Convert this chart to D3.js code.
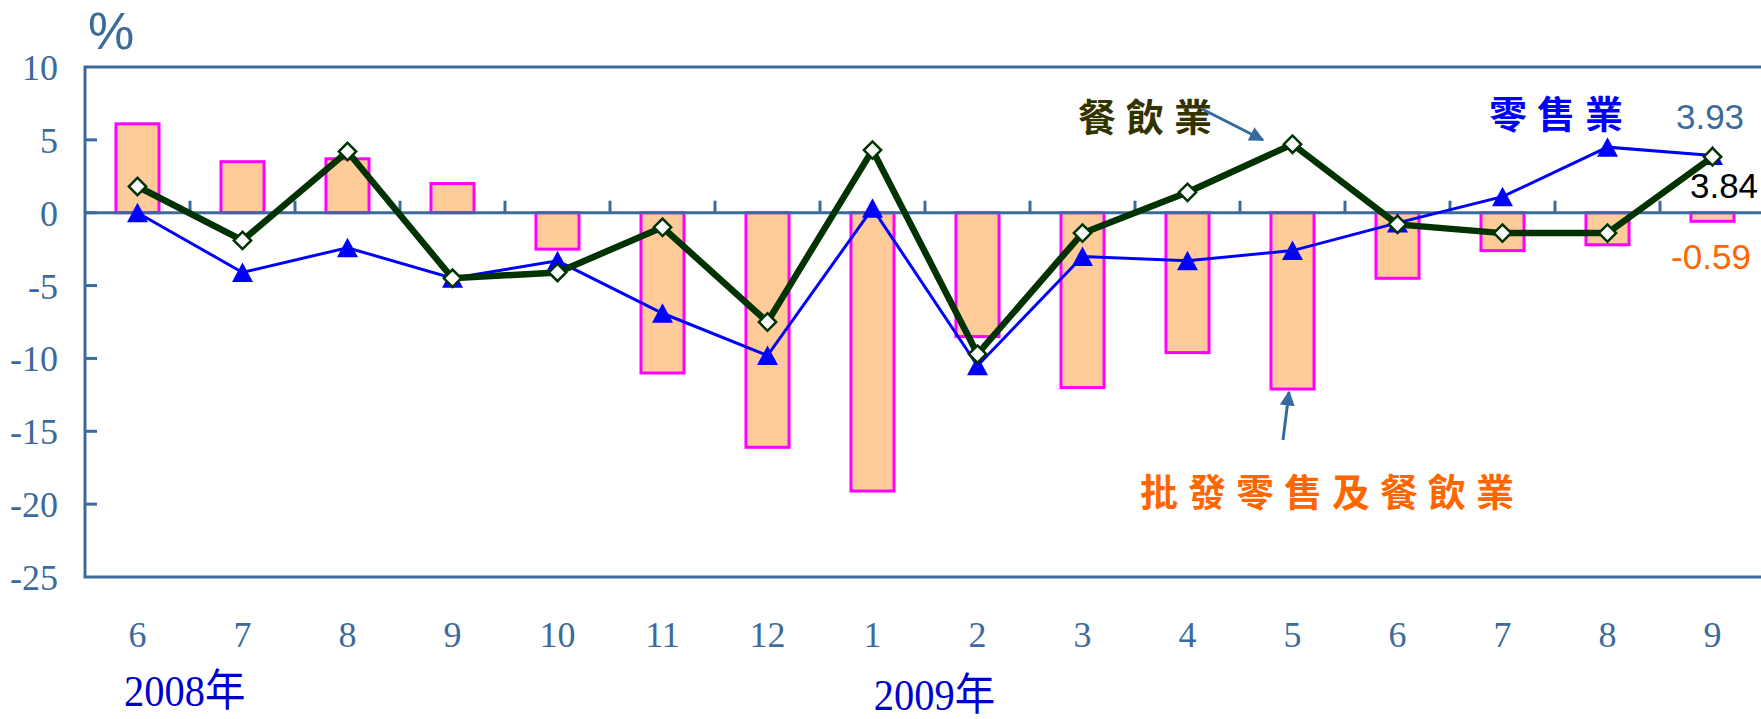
<!DOCTYPE html>
<html>
<head>
<meta charset="utf-8">
<script src="https://cdn.jsdelivr.net/npm/d3@7"></script>
<style>
  html, body { margin: 0; padding: 0; background: #ffffff; }
  svg { display: block; }
</style>
</head>
<body>
<svg id="chart" width="1761" height="719"></svg>
<script>
// Monthly year-on-year change (%), June 2008 to September 2009
const monthLabels = ["6", "7", "8", "9", "10", "11", "12", "1", "2", "3", "4", "5", "6", "7", "8", "9"];
const yearLabels = [{ text: "2008年", index: 0, offset: 0.95 }, { text: "2009年", index: 7, offset: 1.09 }];

// 批發零售及餐飲業 (bars)
const totalValues = [6.1, 3.5, 3.7, 2.0, -2.5, -11.0, -16.1, -19.1, -8.5, -12.0, -9.6, -12.1, -4.5, -2.6, -2.2, -0.59];
// 零售業 (blue triangles)
const retailValues = [0.0, -4.1, -2.4, -4.5, -3.3, -6.9, -9.8, 0.3, -10.5, -3.0, -3.3, -2.6, -0.7, 1.1, 4.5, 3.93];
// 餐飲業 (dark green diamonds)
const foodValues = [1.8, -1.9, 4.2, -4.5, -4.1, -1.0, -7.5, 4.3, -9.7, -1.4, 1.4, 4.7, -0.8, -1.4, -1.4, 3.84];

const yTicks = [10, 5, 0, -5, -10, -15, -20, -25];

const axisColor = "#3b6a9b";
const svg = d3.select("#chart");

const plot = { left: 85, top: 67, bottom: 577, right: 1765 };

const x = d3.scaleBand()
  .domain(d3.range(monthLabels.length))
  .range([plot.left, plot.right])
  .padding(0);

const y = d3.scaleLinear()
  .domain([-25, 10])
  .range([plot.bottom, plot.top]);

const bw = x.bandwidth();
const barW = bw * 0.41;
const cx = i => x(i) + bw / 2;

// Plot frame (top, left, bottom)
svg.append("path")
  .attr("d", `M${plot.right},${plot.top}H${plot.left}V${plot.bottom}H${plot.right}`)
  .attr("fill", "none")
  .attr("stroke", axisColor)
  .attr("stroke-width", 3);

// Y axis tick labels and inward ticks
const yAxis = svg.append("g");
yAxis.selectAll("line").data(yTicks.filter(v => v > -25 && v < 10)).join("line")
  .attr("x1", plot.left).attr("x2", plot.left + 12)
  .attr("y1", d => y(d)).attr("y2", d => y(d))
  .attr("stroke", axisColor).attr("stroke-width", 3);
yAxis.selectAll("text").data(yTicks).join("text")
  .attr("x", 58)
  .attr("y", d => y(d) + 1)
  .attr("text-anchor", "end")
  .attr("dominant-baseline", "central")
  .attr("font-family", "'Liberation Serif', 'Times New Roman', serif")
  .attr("font-size", 36)
  .attr("fill", axisColor)
  .text(d => d);

// Unit
svg.append("text")
  .attr("x", 88).attr("y", 49)
  .attr("font-family", "'Liberation Sans', Arial, sans-serif")
  .attr("font-size", 52)
  .attr("fill", axisColor)
  .text("%");

// Bars
svg.append("g").selectAll("rect").data(totalValues).join("rect")
  .attr("x", (d, i) => cx(i) - barW / 2)
  .attr("y", d => y(Math.max(0, d)))
  .attr("width", barW)
  .attr("height", d => Math.abs(y(d) - y(0)))
  .attr("fill", "#ffcc99")
  .attr("stroke", "#ff00ff")
  .attr("stroke-width", 3);

// Zero line with category boundary ticks
svg.append("line")
  .attr("x1", plot.left).attr("x2", plot.right)
  .attr("y1", y(0)).attr("y2", y(0))
  .attr("stroke", axisColor).attr("stroke-width", 3);
svg.append("g").selectAll("line").data(d3.range(1, monthLabels.length)).join("line")
  .attr("x1", d => x(d)).attr("x2", d => x(d))
  .attr("y1", y(0)).attr("y2", y(0) - 12)
  .attr("stroke", axisColor).attr("stroke-width", 3);

// Month labels
svg.append("g").selectAll("text").data(monthLabels).join("text")
  .attr("x", (d, i) => cx(i))
  .attr("y", 635)
  .attr("text-anchor", "middle")
  .attr("dominant-baseline", "central")
  .attr("font-family", "'Liberation Serif', 'Times New Roman', serif")
  .attr("font-size", 36)
  .attr("fill", axisColor)
  .text(d => d);

// Year labels
svg.append("g").selectAll("text").data(yearLabels).join("text")
  .attr("x", d => x(d.index) + bw * d.offset)
  .attr("y", (d, i) => i === 0 ? 706 : 710)
  .attr("text-anchor", "middle")
  .attr("font-family", "'Liberation Serif', 'Noto Sans CJK TC', serif")
  .attr("font-size", 44)
  .attr("fill", "#0000cc")
  .attr("transform", d => {
    const px = x(d.index) + bw * d.offset;
    return `translate(${px},0) scale(0.92,1) translate(${-px},0)`;
  })
  .text(d => d.text);

// Retail line
const lineGen = d3.line().x((d, i) => cx(i)).y(d => y(d));
svg.append("path")
  .datum(retailValues)
  .attr("d", lineGen)
  .attr("fill", "none")
  .attr("stroke", "#0000ff")
  .attr("stroke-width", 3);
svg.append("g").selectAll("path").data(retailValues).join("path")
  .attr("d", "M0,-10L10.5,9.5L-10.5,9.5Z")
  .attr("transform", (d, i) => `translate(${cx(i)},${y(d)})`)
  .attr("fill", "#0000ff");

// Food service line
svg.append("path")
  .datum(foodValues)
  .attr("d", lineGen)
  .attr("fill", "none")
  .attr("stroke", "#003300")
  .attr("stroke-width", 6.5)
  .attr("stroke-linejoin", "miter");
svg.append("g").selectAll("path").data(foodValues).join("path")
  .attr("d", d3.symbol(d3.symbolSquare, 150))
  .attr("transform", (d, i) => `translate(${cx(i)},${y(d)}) rotate(45)`)
  .attr("fill", "#ffffff")
  .attr("stroke", "#003300")
  .attr("stroke-width", 2.5);

// Arrow heads
const defs = svg.append("defs");
defs.append("marker")
  .attr("id", "arrow")
  .attr("viewBox", "0 0 10 10")
  .attr("refX", 9).attr("refY", 5)
  .attr("markerWidth", 5).attr("markerHeight", 5)
  .attr("markerUnits", "strokeWidth")
  .attr("orient", "auto")
  .append("path")
  .attr("d", "M0,0L10,5L0,10Z")
  .attr("fill", "#356a9e");

// Series labels
const cjk = "'Noto Sans CJK TC', 'Noto Sans CJK SC', sans-serif";
function seriesLabel(text, xPos, yPos, color, spacing) {
  svg.append("text")
    .attr("x", xPos).attr("y", yPos)
    .attr("dominant-baseline", "central")
    .attr("font-family", cjk)
    .attr("font-weight", 700)
    .attr("font-size", 38)
    .attr("letter-spacing", spacing)
    .attr("fill", color)
    .text(text);
}
seriesLabel("餐飲業", 1078, 114, "#333300", 10);
seriesLabel("零售業", 1489, 111, "#0000ff", 10);
seriesLabel("批發零售及餐飲業", 1140, 489, "#ff6600", 10);

// Pointer from 餐飲業 to its line
svg.append("line")
  .attr("x1", 1202).attr("y1", 109)
  .attr("x2", 1263).attr("y2", 140)
  .attr("stroke", "#356a9e").attr("stroke-width", 3)
  .attr("marker-end", "url(#arrow)");
// Pointer from 批發零售及餐飲業 to the bars
svg.append("line")
  .attr("x1", 1283).attr("y1", 440)
  .attr("x2", 1289).attr("y2", 392)
  .attr("stroke", "#356a9e").attr("stroke-width", 3)
  .attr("marker-end", "url(#arrow)");

// Latest values
const last = monthLabels.length - 1;
const valueFont = "'Liberation Sans', Arial, sans-serif";
svg.append("text")
  .attr("x", 1710).attr("y", 116)
  .attr("text-anchor", "middle").attr("dominant-baseline", "central")
  .attr("font-family", valueFont).attr("font-size", 35)
  .attr("fill", "#3b6a9b")
  .text(retailValues[last].toFixed(2));
svg.append("text")
  .attr("x", 1724).attr("y", 185)
  .attr("text-anchor", "middle").attr("dominant-baseline", "central")
  .attr("font-family", valueFont).attr("font-size", 35)
  .attr("fill", "#000000")
  .text(foodValues[last].toFixed(2));
svg.append("text")
  .attr("x", 1711).attr("y", 256)
  .attr("text-anchor", "middle").attr("dominant-baseline", "central")
  .attr("font-family", valueFont).attr("font-size", 35)
  .attr("fill", "#ff6600")
  .text(totalValues[last].toFixed(2));
</script>
</body>
</html>
